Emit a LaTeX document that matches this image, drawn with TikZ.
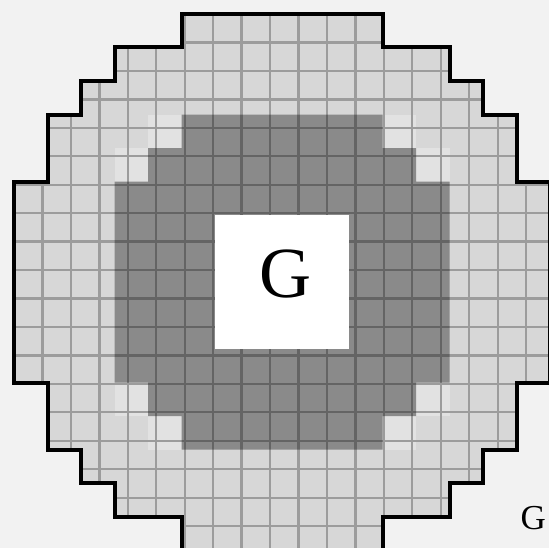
\documentclass[tikz,border=0pt]{standalone}
\usepackage{fontspec}
\setmainfont{Liberation Serif}
\definecolor{bgpaper}{HTML}{F2F2F2}
\definecolor{lightcell}{HTML}{D7D7D7}
\definecolor{palecell}{HTML}{E2E2E2}
\definecolor{darkcell}{HTML}{8A8A8A}
\definecolor{lightline}{HTML}{9C9C9C}
\definecolor{darkline}{HTML}{646464}
\tikzset{
  outlinepath/.style={draw=black, line width=4pt, line join=miter},
  lightgrid/.style={draw=lightline, line width=2.3pt},
  darkgrid/.style={draw=darkline, line width=2.3pt},
  biglabel/.style={inner sep=0pt, font=\fontsize{72}{72}\selectfont},
  smalllabel/.style={inner sep=0pt, font=\fontsize{35}{35}\selectfont}
}
\begin{document}
\begin{tikzpicture}[x=33.5pt, y=-33.5pt]
\useasboundingbox (-0.4179,-0.4179) rectangle (15.970,15.940);
\fill[bgpaper] (-0.4179,-0.4179) rectangle (15.970,15.940);
\def\outerpoly{(5,0) -- (11,0) -- (11,1) -- (13,1) -- (13,2) -- (14,2) -- (14,3) -- (15,3) -- (15,5) -- (16,5) -- (16,11) -- (15,11) -- (15,13) -- (14,13) -- (14,14) -- (13,14) -- (13,15) -- (11,15) -- (11,16) -- (5,16) -- (5,15) -- (3,15) -- (3,14) -- (2,14) -- (2,13) -- (1,13) -- (1,11) -- (0,11) -- (0,5) -- (1,5) -- (1,3) -- (2,3) -- (2,2) -- (3,2) -- (3,1) -- (5,1) -- cycle}
\def\darkpoly{(5,3) -- (11,3) -- (11,4) -- (12,4) -- (12,5) -- (13,5) -- (13,11) -- (12,11) -- (12,12) -- (11,12) -- (11,13) -- (5,13) -- (5,12) -- (4,12) -- (4,11) -- (3,11) -- (3,5) -- (4,5) -- (4,4) -- (5,4) -- cycle}
% light region
\fill[lightcell] \outerpoly;
% paler cells next to the dark corners
\foreach \c/\r in {4/3,3/4,11/3,12/4,3/11,4/12,12/11,11/12}
  \fill[palecell] (\c,\r) rectangle ++(1,1);
% dark region
\fill[darkcell] \darkpoly;
% grid lines
\begin{scope}
  \clip \outerpoly;
  \draw[lightgrid] (0,0) grid (16,16);
\end{scope}
\begin{scope}
  \clip \darkpoly;
  \draw[darkgrid] (0,0) grid (16,16);
\end{scope}
% white centre block
\fill[white] (6,6) rectangle (10,10);
% outline
\draw[outlinepath] \outerpoly;
% labels
\node[biglabel] (g) at (8.09,7.76) {G};
\node[smalllabel, anchor=west] (gcap) at (15.12,15.04) {G};
\end{tikzpicture}
\end{document}
